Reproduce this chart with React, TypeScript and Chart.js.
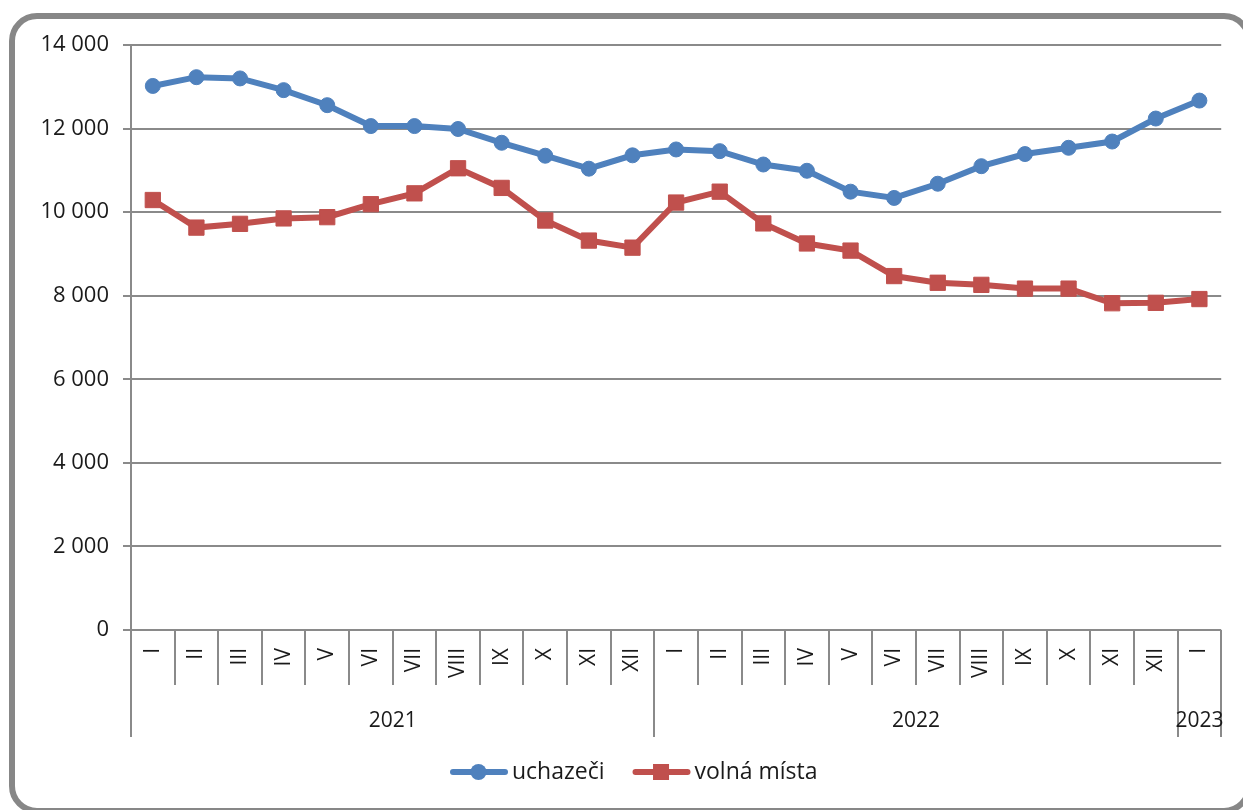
import React, { useEffect, useRef } from "react";
import { Chart, registerables } from "chart.js";

Chart.register(...registerables);

const monthLabels = [
  "I", "II", "III", "IV", "V", "VI", "VII", "VIII", "IX", "X", "XI", "XII",
  "I", "II", "III", "IV", "V", "VI", "VII", "VIII", "IX", "X", "XI", "XII",
  "I",
];
const yearLabels = ["2021", "2022", "2023"];
const yearSpans = [12, 12, 1];

const uchazeci = [
  13020, 13230, 13200, 12920, 12560, 12060, 12060, 11990, 11660, 11350, 11040, 11360,
  11500, 11460, 11140, 10990, 10490, 10340, 10680, 11100, 11390, 11540, 11690, 12240,
  12670,
];
const volnaMista = [
  10290, 9630, 9720, 9850, 9880, 10190, 10450, 11050, 10580, 9800, 9320, 9150,
  10230, 10490, 9730, 9250, 9080, 8470, 8310, 8260, 8170, 8170, 7820, 7830,
  7920,
];

const seriesNames = ["uchazeči", "volná místa"];
const seriesColors = ["#4F81BD", "#C0504D"];

const yMin = 0;
const yMax = 14000;
const yStep = 2000;

const FONT = "'Open Sans', Lato, sans-serif";
const GRID = "#8a8a8a";
const TEXT = "#1a1a1a";

function fmt(v: number): string {
  return String(v).replace(/\B(?=(\d{3})+(?!\d))/g, " ");
}

const groupPlugin = {
  id: "groupAxisAndLegend",
  afterDraw(chart: any) {
    const { ctx, chartArea } = chart;
    const xs = chart.scales.x;
    const n = chart.data.labels.length;
    const bottom = chartArea.bottom;
    const boundaries = new Set<number>();
    let acc = 0;
    boundaries.add(0);
    for (const s of yearSpans) {
      acc += s;
      boundaries.add(acc);
    }
    ctx.save();
    ctx.strokeStyle = GRID;
    ctx.lineWidth = 2;
    for (let i = 0; i <= n; i++) {
      const bx = Math.round(xs.getPixelForValue(i - 0.5));
      const len = boundaries.has(i) ? 107 : 55;
      ctx.beginPath();
      ctx.moveTo(bx, bottom);
      ctx.lineTo(bx, bottom + len);
      ctx.stroke();
    }
    // year labels
    ctx.fillStyle = TEXT;
    ctx.font = `21px ${FONT}`;
    ctx.textAlign = "center";
    ctx.textBaseline = "middle";
    let start = 0;
    yearLabels.forEach((yl, k) => {
      const span = yearSpans[k];
      const cx = xs.getPixelForValue(start + span / 2 - 0.5);
      ctx.fillText(yl, cx, bottom + 91);
      start += span;
    });

    // legend
    const ly = 772;
    let lx = 450;
    ctx.textAlign = "left";
    ctx.font = `23px ${FONT}`;
    chart.data.datasets.forEach((ds: any) => {
      const color = ds.borderColor;
      ctx.strokeStyle = color;
      ctx.fillStyle = color;
      ctx.lineWidth = 6;
      ctx.lineCap = "round";
      ctx.beginPath();
      ctx.moveTo(lx + 3, ly);
      ctx.lineTo(lx + 55, ly);
      ctx.stroke();
      const mx = lx + 28.5;
      if (ds.pointStyle === "rect") {
        ctx.fillRect(mx - 8, ly - 8, 16, 16);
      } else {
        ctx.beginPath();
        ctx.arc(mx, ly, 8, 0, Math.PI * 2);
        ctx.fill();
      }
      ctx.fillStyle = TEXT;
      ctx.fillText(ds.label, lx + 62, ly);
      const w = ctx.measureText(ds.label).width;
      lx += 62 + w + 28;
    });
    ctx.restore();
  },
};

export default function App() {
  const ref = useRef<HTMLCanvasElement | null>(null);

  useEffect(() => {
    if (!ref.current) return;
    const chart = new Chart(ref.current, {
      type: "line",
      data: {
        labels: monthLabels,
        datasets: [
          {
            label: seriesNames[0],
            data: uchazeci,
            borderColor: seriesColors[0],
            backgroundColor: seriesColors[0],
            pointBackgroundColor: seriesColors[0],
            pointBorderColor: seriesColors[0],
            borderWidth: 6,
            pointStyle: "circle",
            pointRadius: 7.5,
            pointBorderWidth: 1,
            tension: 0,
          },
          {
            label: seriesNames[1],
            data: volnaMista,
            borderColor: seriesColors[1],
            backgroundColor: seriesColors[1],
            pointBackgroundColor: seriesColors[1],
            pointBorderColor: seriesColors[1],
            borderWidth: 6,
            pointStyle: "rect",
            pointRadius: 10.8,
            pointBorderWidth: 1,
            tension: 0,
          },
        ],
      },
      options: {
        responsive: false,
        animation: false,
        devicePixelRatio: 1,
        layout: { padding: { left: 0, top: 45, right: 20, bottom: 0 } },
        plugins: {
          legend: { display: false },
          tooltip: { enabled: false },
          title: { display: false },
        },
        scales: {
          x: {
            type: "category",
            offset: true,
            grid: { display: false, drawTicks: false },
            border: { display: false },
            ticks: {
              autoSkip: false,
              minRotation: 90,
              maxRotation: 90,
              padding: 18,
              color: TEXT,
              font: { family: FONT, size: 21 },
            },
            afterFit(scale: any) {
              scale.height = 180;
            },
          },
          y: {
            min: yMin,
            max: yMax,
            grid: {
              color: GRID,
              lineWidth: 2,
              tickLength: 8,
              tickColor: GRID,
            },
            border: { display: true, color: GRID, width: 2 },
            ticks: {
              stepSize: yStep,
              padding: 14,
              color: TEXT,
              font: { family: FONT, size: 22 },
              callback: (v: any) => fmt(Number(v)),
            },
            afterFit(scale: any) {
              scale.width = 131;
            },
          },
        },
      },
      plugins: [groupPlugin],
    });
    return () => chart.destroy();
  }, []);

  return (
    <div
      style={{
        position: "fixed",
        left: 0,
        top: 0,
        width: 1243,
        height: 810,
        overflow: "hidden",
        background: "#ffffff",
      }}
    >
      <canvas
        ref={ref}
        width={1243}
        height={810}
        style={{ position: "absolute", left: 0, top: 0, width: 1243, height: 810 }}
      />
      <div
        style={{
          position: "absolute",
          left: 9,
          top: 13,
          width: 1243,
          height: 801,
          boxSizing: "border-box",
          border: "6px solid #878787",
          borderRadius: 28,
          pointerEvents: "none",
        }}
      />
    </div>
  );
}
